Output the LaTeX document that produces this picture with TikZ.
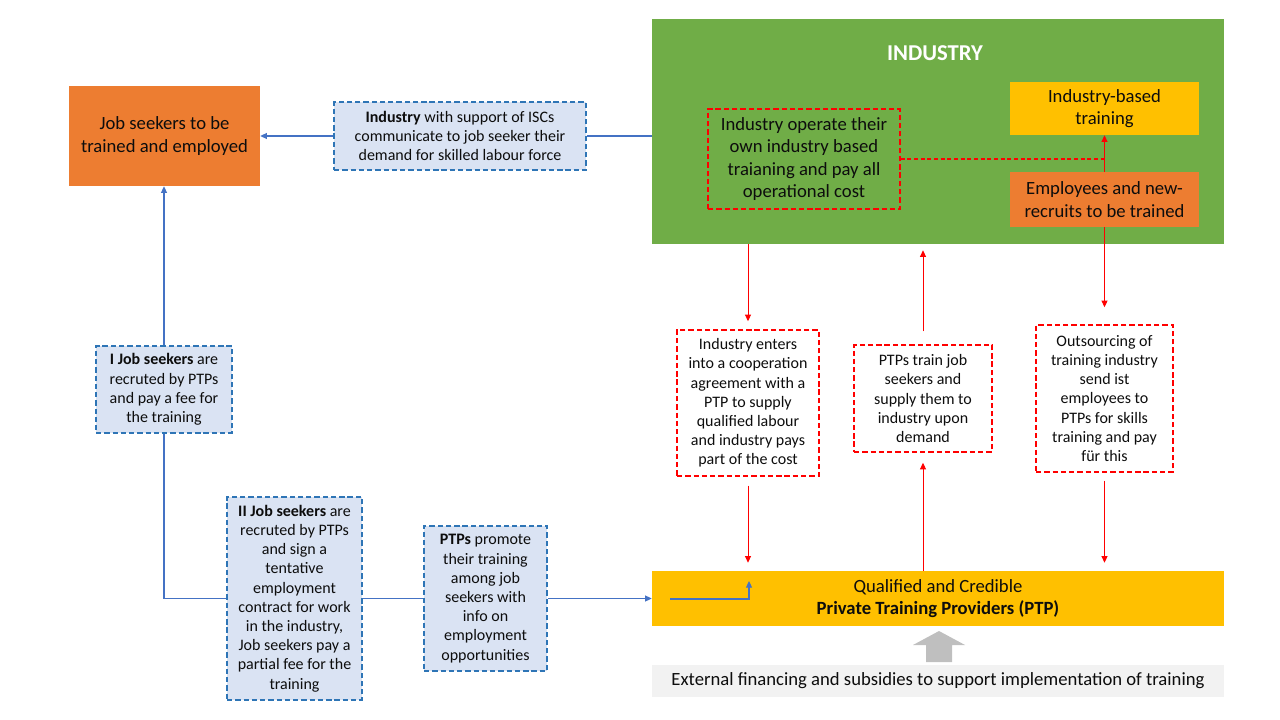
\documentclass[tikz,border=0pt]{standalone}
\usepackage{fontspec}
\setmainfont{Carlito}
\usetikzlibrary{calc}
\usetikzlibrary{positioning}
\usetikzlibrary{arrows.meta}
\newdimen\pxu \pxu=0.75pt
\definecolor{seekorange}{HTML}{ED7D31}
\definecolor{indgreen}{HTML}{70AD47}
\definecolor{ptpyellow}{HTML}{FFC000}
\definecolor{paleblue}{HTML}{DAE3F3}
\definecolor{dashblue}{HTML}{2E75B6}
\definecolor{lineblue}{HTML}{4472C4}
\definecolor{fundgray}{HTML}{BFBFBF}
\definecolor{extgray}{HTML}{F2F2F2}
\definecolor{inktext}{HTML}{0D0D0D}
\tikzstyle{fillbox} = [inner sep=2pt, align=center, text=inktext, font=\fontsize{14}{16.8}\selectfont]
\tikzstyle{bluebox} = [draw=dashblue, fill=paleblue, dash pattern=on 4pt off 2.2pt, line width=1.1pt, inner sep=2pt, align=center, text=inktext, font=\fontsize{12}{14.4}\selectfont]
\tikzstyle{redbox} = [draw=red, dash pattern=on 4pt off 2.2pt, line width=1.1pt, inner sep=2pt, align=center, text=inktext, font=\fontsize{12}{14.4}\selectfont]
\tikzstyle{blueline} = [draw=lineblue, line width=0.8pt]
\tikzstyle{redline} = [draw=red, line width=0.7pt]

\begin{document}
\begin{tikzpicture}[x=0.75pt, y=-0.75pt, >={Triangle[length=5pt, width=4.5pt]}]
  \useasboundingbox (0,0) rectangle (1280,720);

  % industry block
  \node[fillbox, fill=indgreen, minimum width=572\pxu, minimum height=225\pxu] (industry) at (938,131.5) {};
  \node[text=white, font=\fontsize{17}{20}\selectfont\bfseries] (indtitle) at (935,53) {INDUSTRY};
  \node[redbox, font=\fontsize{14}{16.8}\selectfont, minimum width=192\pxu, minimum height=100\pxu] (ownop) at (804,159)
    {Industry operate their\\own industry based\\traianing and pay all\\operational cost};
  \node[fillbox, fill=ptpyellow, minimum width=189\pxu, minimum height=53\pxu] (ibt) at (1104.5,108.5) {Industry-based\\training};
  \node[fillbox, fill=seekorange, minimum width=189\pxu, minimum height=55\pxu] (emp) at (1104.5,199.5) {Employees and new-\\recruits to be trained};

  % job seekers side
  \node[fillbox, fill=seekorange, minimum width=191\pxu, minimum height=100\pxu] (seekers) at (164.5,136) {Job seekers to be\\trained and employed};
  \node[bluebox, minimum width=252\pxu, minimum height=68\pxu] (comm) at (460,136)
    {\textbf{Industry} with support of ISCs\\communicate to job seeker their\\demand for skilled labour force};
  \node[bluebox, minimum width=136\pxu, minimum height=87\pxu] (jsI) at (164,389.5)
    {\textbf{I Job seekers} are\\recruted by PTPs\\and pay a fee for\\the training};
  \node[bluebox, minimum width=135\pxu, minimum height=203\pxu] (jsII) at (294.5,598.5)
    {\textbf{II Job seekers} are\\recruted by PTPs\\and sign a\\tentative\\employment\\contract for work\\in the industry,\\Job seekers pay a\\partial fee for the\\training};
  \node[bluebox, minimum width=123\pxu, minimum height=145\pxu] (prom) at (485.5,598.5)
    {\textbf{PTPs} promote\\their training\\among job\\seekers with\\info on\\employment\\opportunities};

  % middle boxes
  \node[redbox, minimum width=142\pxu, minimum height=146\pxu] (coop) at (748,403)
    {Industry enters\\into a cooperation\\agreement with a\\PTP to supply\\qualified labour\\and industry pays\\part of the cost};
  \node[redbox, minimum width=138\pxu, minimum height=107\pxu] (train) at (923,398.5)
    {PTPs train job\\seekers and\\supply them to\\industry upon\\demand};
  \node[redbox, minimum width=137\pxu, minimum height=147\pxu] (outs) at (1104.5,398.5)
    {Outsourcing of\\training industry\\send ist\\employees to\\PTPs for skills\\training and pay\\für this};

  % providers
  \node[fillbox, fill=ptpyellow, minimum width=572\pxu, minimum height=55\pxu] (ptp) at (938,598.5)
    {Qualified and Credible\\\textbf{Private Training Providers (PTP)}};
  \node[fillbox, fill=extgray, minimum width=572\pxu, minimum height=32\pxu] (ext) at (938,681)
    {External financing and subsidies to support implementation of training};
  \coordinate (fund) at (939,631);
  \fill[fundgray] (fund) -- ++(26,14) -- ++(-13,0) -- ++(0,17) -- ++(-26,0) -- ++(0,-17) -- ++(-13,0) -- cycle;

  % blue connectors
  \draw[blueline] (comm.east) -- (comm.east -| industry.west);
  \draw[blueline, ->] (comm.west) -- (seekers.east);
  \draw[blueline, ->] (jsI.north) -- (jsI.north |- seekers.south);
  \draw[blueline] (jsI.south) |- (jsII.west);
  \draw[blueline] (jsII.east) -- (prom.west);
  \draw[blueline, ->] (prom.east) -- (prom.east -| ptp.west);
  \coordinate (inl) at (670,599);
  \coordinate (inr) at (749,581);
  \draw[blueline, ->] (inl) -| (inr);

  % red connectors
  \draw[redline, ->] (emp.north) -- (ibt.south);
  \draw[redline, line width=1pt, dash pattern=on 3pt off 2pt] (ownop.east) -- (ownop.east -| emp.north);
  \draw[redline, ->] (emp.south) -- ($(outs.south |- outs.north)+(0,-17)$);
  \draw[redline, ->] ($(outs.south)+(0,8)$) -- ($(outs.south |- ptp.north)+(0,-8)$);
  \draw[redline, ->] (coop.north |- industry.south) -- ($(coop.north)+(0,-8)$);
  \draw[redline, ->] ($(coop.south)+(0,9)$) -- ($(coop.south |- ptp.north)+(0,-8)$);
  \draw[redline, ->] ($(train.north)+(0,-13)$) -- ($(train.north |- industry.south)+(0,6)$);
  \draw[redline, ->] (train.south |- ptp.north) -- ($(train.south)+(0,10)$);
\end{tikzpicture}
\end{document}
